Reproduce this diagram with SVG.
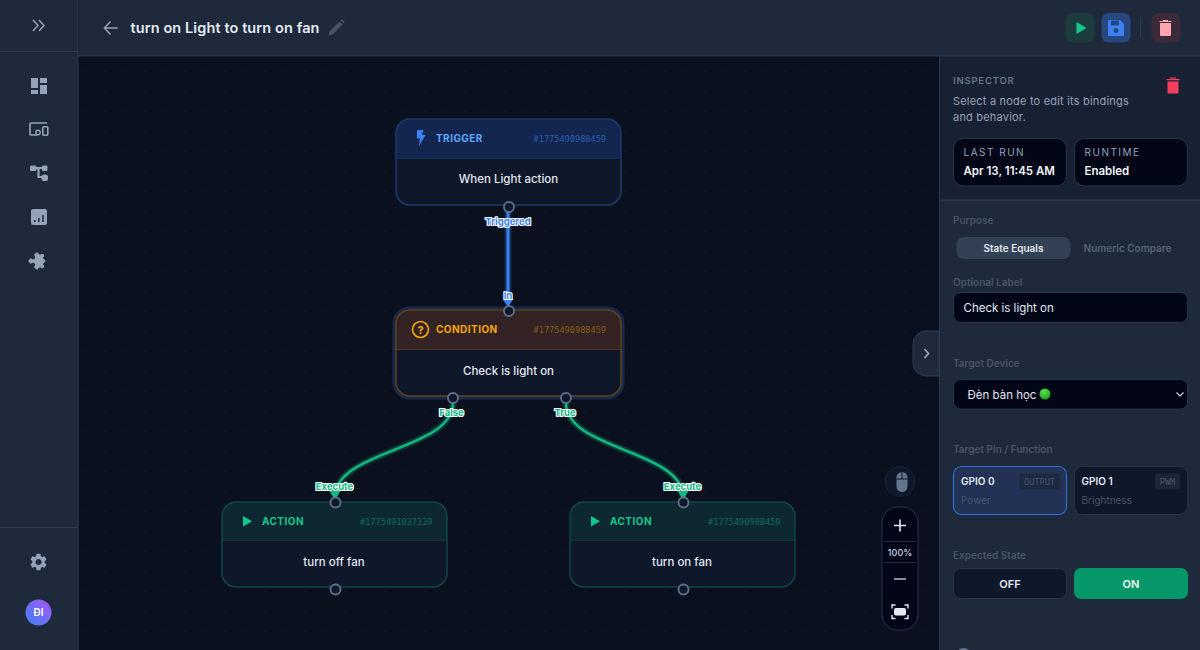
<svg xmlns="http://www.w3.org/2000/svg" width="1200" height="650" viewBox="0 0 1200 650">
<style>
text{font-family:Inter,"Noto Sans","Liberation Sans",sans-serif}
.kind{font-size:10px;font-weight:700;letter-spacing:.45px}
.nid{font-size:8.6px;font-family:"DejaVu Sans Mono",monospace}
.body{font-size:11.5px;font-weight:500;fill:#e2e8f0;text-anchor:middle}
.h{fill:#0f172a;stroke:#5f6f89;stroke-width:1.9}
.el{font-size:9.5px;font-weight:700;text-anchor:middle;paint-order:stroke;stroke:#fff;stroke-width:2.2px;stroke-linejoin:round}
.ic{fill:#94a3b8}
.lab{font-size:10px;font-weight:600;fill:#475569}
.card{fill:#020617;stroke:#273449}
.small{font-size:10px;letter-spacing:1.5px;fill:#94a3b8}
.val{font-size:11.5px;font-weight:600;fill:#f1f5f9}
.pin{font-size:8.6px;font-family:"DejaVu Sans Mono",monospace;fill:#475569;text-anchor:middle}
</style>
<defs>
<pattern id="dots" width="20" height="20" patternUnits="userSpaceOnUse" x="4" y="10"><circle cx="1" cy="1" r=".6" fill="#172033"/></pattern>
<linearGradient id="av" x1="1" y1="0" x2="0" y2="1"><stop offset="0" stop-color="#a855f7"/><stop offset="1" stop-color="#3b82f6"/></linearGradient>
<radialGradient id="dot" cx=".4" cy=".3" r=".8"><stop offset="0" stop-color="#5fe04a"/><stop offset="1" stop-color="#0f9d1c"/></radialGradient>
</defs>
<g id="canvas"><rect x="78" y="56" width="861" height="594" fill="#0a101e"/><rect x="78" y="56" width="861" height="594" fill="url(#dots)"/></g>
<g id="sidebar">
<rect width="78" height="650" fill="#1e293b"/><rect x="77.500" width="1" height="650" fill="#2c3a4f"/>
<rect y="51" width="78" height="1" fill="#2c3a4f"/><rect y="527" width="78" height="1" fill="#2c3a4f"/>
<path d="M33 20l5 5.500-5 5.500M39 20l5 5.500-5 5.500" fill="none" stroke="#94a3b8" stroke-width="1.500"/>
<path class="ic" d="M31 78h7v10h-7zM40 78h7v5h-7zM40 85h7v9h-7zM31 90h7v4h-7z"/>
<path d="M37 135h-6a1 1 0 0 1-1-1v-10a1 1 0 0 1 1-1h16" fill="none" stroke="#94a3b8" stroke-width="1.700"/><circle cx="38" cy="132.500" r="2.200" fill="none" stroke="#94a3b8" stroke-width="1.400"/><rect x="42.800" y="126.800" width="5" height="8.500" rx="1" fill="none" stroke="#94a3b8" stroke-width="1.600"/>
<path d="M33 168h12M38.500 168v9h5" fill="none" stroke="#94a3b8" stroke-width="2.200"/><rect x="30" y="165.500" width="6.500" height="5.500" rx="1.500" class="ic"/><rect x="42" y="165.500" width="5.500" height="5.500" rx="1" class="ic"/><rect x="41.500" y="174.500" width="6.500" height="6.500" rx="2.500" class="ic"/>
<rect x="31" y="209" width="16" height="16" rx="2" class="ic"/><path d="M34.800 222v-2M38.800 222v-4M43 222v-7" stroke="#1e293b" stroke-width="1.500"/>
<path class="ic" transform="translate(39 261) rotate(45) scale(.76) translate(-12.500 -11.500)" d="M20.500 11H19V7c0-1.100-.900-2-2-2h-4V3.500C13 2.120 11.880 1 10.500 1S8 2.120 8 3.500V5H4c-1.100 0-1.990.900-1.990 2v3.800H3.500c1.490 0 2.700 1.210 2.700 2.700s-1.210 2.700-2.700 2.700H2V20c0 1.100.900 2 2 2h3.800v-1.500c0-1.490 1.210-2.700 2.700-2.700 1.490 0 2.700 1.210 2.700 2.700V22H17c1.100 0 2-.900 2-2v-4h1.500c1.380 0 2.500-1.120 2.500-2.500S21.880 11 20.500 11z"/>
<path class="ic" fill-rule="evenodd" transform="translate(38.500 562) scale(.85) translate(-12 -12)" d="M19.140 12.940c.04-.3.06-.61.06-.94 0-.32-.02-.64-.07-.94l2.030-1.580c.18-.14.23-.41.12-.61l-1.920-3.320c-.12-.22-.37-.29-.59-.22l-2.390.96c-.5-.38-1.030-.7-1.620-.94l-.36-2.540c-.04-.24-.24-.41-.48-.41h-3.840c-.24 0-.43.17-.47.41l-.36 2.540c-.59.24-1.130.57-1.620.94l-2.390-.96c-.22-.08-.47 0-.59.22L2.740 8.870c-.12.21-.08.47.12.61l2.030 1.580c-.05.3-.09.63-.09.94s.02.64.07.94l-2.030 1.580c-.18.14-.23.41-.12.61l1.920 3.320c.12.22.37.29.59.22l2.390-.96c.5.38 1.030.7 1.620.94l.36 2.540c.05.24.24.41.48.41h3.840c.24 0 .44-.17.47-.41l.36-2.540c.59-.24 1.130-.56 1.620-.94l2.390.96c.22.08.47 0 .59-.22l1.920-3.320c.12-.22.07-.47-.12-.61l-2.010-1.580zM12 15.600c-1.980 0-3.600-1.620-3.600-3.600s1.620-3.600 3.600-3.600 3.600 1.620 3.600 3.600-1.620 3.600-3.600 3.600z"/>
<circle cx="38.500" cy="612.500" r="13" fill="url(#av)"/><text x="38.500" y="616" font-size="10" font-weight="600" fill="#fff" text-anchor="middle">ĐI</text>
</g>
<g id="header">
<rect x="78" width="1122" height="56" fill="#1e293b"/><rect x="78" y="55.500" width="1122" height="1" fill="#2a384c"/>
<path d="M117.500 28h-12.500M110.500 21.500l-6 6.500 6 6.500" fill="none" stroke="#94a3b8" stroke-width="1.500"/>
<text x="130.500" y="33" font-size="14.500" font-weight="600" letter-spacing=".1" fill="#e2e8f0">turn on Light to turn on fan</text>
<path d="M328.500 35.500l1-4 10-10 3 3-10 10zM340.500 20.500l1.300-1.300 2.800 2.800-1.300 1.500z" fill="#475569"/>
<rect x="1065.500" y="13" width="29" height="29.500" rx="7" fill="#1c3b3f"/><path d="M1076.500 22v12l10-6z" fill="#10c98f"/>
<rect x="1101.500" y="13" width="29" height="29.500" rx="7" fill="#27477f"/><path d="M1108 21a1 1 0 0 1 1-1h11l4 4v11a1 1 0 0 1-1 1h-14a1 1 0 0 1-1-1zM1111 20.500v5h8v-5zM1116 28a2.500 2.500 0 1 0 .01 0z" fill="#3b82f6" fill-rule="evenodd"/>
<rect x="1140" y="17" width="1" height="20" fill="#2c3a4f"/>
<rect x="1151.500" y="13" width="29" height="29.500" rx="7" fill="#3b2a3a"/><path d="M1160 23h11v12a1 1 0 0 1-1 1h-9a1 1 0 0 1-1-1zM1159.500 21h12v1h-12zM1163 20h5v1h-5z" fill="#fda4af"/>
</g>
<g id="connectors" fill="none">
<path d="M508 210V300" stroke="#3b82f6" stroke-opacity=".25" stroke-width="7"/>
<path d="M508 210V300" stroke="#3b82f6" stroke-width="3"/>
<path d="M502.500 299h11l-5.500 8z" fill="#3b82f6"/>
<path d="M453 403C453 450 335 450 335 497" stroke="#10b981" stroke-opacity=".22" stroke-width="7"/>
<path d="M453 403C453 450 335 450 335 497" stroke="#10b981" stroke-width="2.500"/>
<path d="M566 403C566 450 683 450 683 497" stroke="#10b981" stroke-opacity=".22" stroke-width="7"/>
<path d="M566 403C566 450 683 450 683 497" stroke="#10b981" stroke-width="2.500"/>
<path d="M329.500 491h11l-5.500 9z" fill="#10b981"/><path d="M677.500 491h11l-5.500 9z" fill="#10b981"/>
</g>
<g id="node-trigger">
<rect x="396" y="119" width="225" height="86" rx="14" fill="#0f172a"/>
<path d="M396 158v-25a14 14 0 0 1 14-14h197a14 14 0 0 1 14 14v25z" fill="#12264f"/>
<rect x="396" y="158" width="225" height="1" fill="#172a52"/>
<rect x="396" y="119" width="225" height="86" rx="14" fill="none" stroke="#1c3a70" stroke-width="1.500"/>
<path d="M417 130h6.500l-1.500 5h3.500l-6.500 11 1-7.500h-3z" fill="#3b82f6"/>
<text x="436" y="142" class="kind" fill="#60a5fa">TRIGGER</text>
<text x="606" y="141.500" class="nid" fill="#2c5cab" text-anchor="end">#1775490988459</text>
<text x="508.500" y="183" class="body">When Light action</text>
<circle cx="509" cy="207" r="5" class="h"/>
<text x="508" y="224.500" class="el" fill="#3b82f6">Triggered</text>
</g>
<g id="node-condition">
<rect x="392.500" y="306.500" width="232" height="93" rx="17" fill="#18294c"/>
<rect x="396" y="310" width="225" height="86" rx="14" fill="#0f172a"/>
<path d="M396 349v-25a14 14 0 0 1 14-14h197a14 14 0 0 1 14 14v25z" fill="#332324"/>
<rect x="396" y="349" width="225" height="1" fill="#4e3518"/>
<rect x="396" y="310" width="225" height="86" rx="14" fill="none" stroke="#5e4118" stroke-width="1.500"/>
<circle cx="420.500" cy="329.500" r="8" fill="none" stroke="#f5a80b" stroke-width="1.600"/>
<text x="420.500" y="333.500" font-size="11" font-weight="700" fill="#f5a80b" text-anchor="middle">?</text>
<text x="436" y="333" class="kind" fill="#f5a80b">CONDITION</text>
<text x="606" y="332.500" class="nid" fill="#8a5c12" text-anchor="end">#1775490988459</text>
<text x="508.500" y="374.500" class="body">Check is light on</text>
<circle cx="509" cy="311" r="5" class="h"/><circle cx="453" cy="398" r="5" class="h"/><circle cx="566" cy="398" r="5" class="h"/>
<text x="508" y="299" class="el" fill="#3b82f6">In</text>
<text x="451.500" y="416" class="el" fill="#10b981">False</text>
<text x="565" y="416" class="el" fill="#10b981">True</text>
</g>
<g id="node-action-off">
<rect x="222" y="502" width="225" height="85" rx="14" fill="#0f172a"/>
<path d="M222 540v-24a14 14 0 0 1 14-14h197a14 14 0 0 1 14 14v24z" fill="#0e2831"/>
<rect x="222" y="540" width="225" height="1" fill="#0e3238"/>
<rect x="222" y="502" width="225" height="85" rx="14" fill="none" stroke="#0f4643" stroke-width="1.500"/>
<path d="M243 516v10.500l9-5.250z" fill="#10c98f"/>
<text x="262" y="525" class="kind" fill="#10c98f">ACTION</text>
<text x="432.500" y="524.500" class="nid" fill="#0c6b5c" text-anchor="end">#1775491037339</text>
<text x="334" y="566" class="body">turn off fan</text>
<circle cx="335.500" cy="502.500" r="5" class="h"/><circle cx="335.500" cy="589.500" r="5" class="h"/>
<text x="334.500" y="489.500" class="el" fill="#10b981">Execute</text>
</g>
<g id="node-action-on">
<rect x="570" y="502" width="225" height="85" rx="14" fill="#0f172a"/>
<path d="M570 540v-24a14 14 0 0 1 14-14h197a14 14 0 0 1 14 14v24z" fill="#0e2831"/>
<rect x="570" y="540" width="225" height="1" fill="#0e3238"/>
<rect x="570" y="502" width="225" height="85" rx="14" fill="none" stroke="#0f4643" stroke-width="1.500"/>
<path d="M591 516v10.500l9-5.250z" fill="#10c98f"/>
<text x="610" y="525" class="kind" fill="#10c98f">ACTION</text>
<text x="780.500" y="524.500" class="nid" fill="#0c6b5c" text-anchor="end">#1775490988459</text>
<text x="682" y="566" class="body">turn on fan</text>
<circle cx="683.500" cy="502.500" r="5" class="h"/><circle cx="683.500" cy="589.500" r="5" class="h"/>
<text x="682.500" y="489.500" class="el" fill="#10b981">Execute</text>
</g>
<g id="canvas-controls">
<circle cx="900" cy="481.500" r="15" fill="#0f172a" stroke="#1a2436"/>
<rect x="896.500" y="472" width="11" height="20" rx="5.500" fill="#64748b"/><path d="M902 472v7M896.500 479h11" stroke="#0f172a" stroke-width="1"/>
<rect x="882" y="507" width="36" height="123" rx="15" fill="#020617" stroke="#273449"/>
<path d="M900 519.500v12M894 525.500h12" stroke="#e2e8f0" stroke-width="1.600"/>
<rect x="885" y="541" width="30" height="1" fill="#1e293b"/><rect x="885" y="562" width="30" height="1" fill="#1e293b"/>
<text x="900" y="555.500" font-size="9" font-weight="500" fill="#cbd5e1" text-anchor="middle">100%</text>
<path d="M894 579h12" stroke="#94a3b8" stroke-width="1.800"/>
<rect x="894" y="608" width="12" height="7.500" rx="2" fill="#e2e8f0"/>
<path d="M892 608.500v-3.500h3.500M904.500 605h3.500v3.500M908 615v3.500h-3.500M895.500 618.500H892V615" fill="none" stroke="#e2e8f0" stroke-width="1.400"/>
</g>
<g id="inspector">
<path d="M926 331h13v45h-13a13 13 0 0 1-13-13v-19a13 13 0 0 1 13-13z" fill="#1e293b" stroke="#2d3b50"/>
<path d="M924.500 349l4 4.500-4 4.500" fill="none" stroke="#94a3b8" stroke-width="1.800"/>
<rect x="939" y="56" width="261" height="594" fill="#1e293b"/>
<rect x="939" y="57" width="261" height="143" fill="#182034"/>
<rect x="939" y="56" width="1" height="594" fill="#2d3b50"/>
<rect x="940" y="199.500" width="260" height="1.500" fill="#273449"/>
<text x="953" y="84" font-size="9.500" font-weight="600" letter-spacing=".8" fill="#64748b">INSPECTOR</text>
<path d="M1167.500 81.500h11v11a1 1 0 0 1-1 1h-9a1 1 0 0 1-1-1zM1166.500 79h13v1.300h-13zM1170 77.500h6v1h-6z" fill="#f43f5e"/>
<text x="953" y="104.500" font-size="11" fill="#94a3b8" letter-spacing=".2">Select a node to edit its bindings</text>
<text x="953" y="121" font-size="11" fill="#94a3b8" letter-spacing=".2">and behavior.</text>
<rect x="953.500" y="138.500" width="113" height="47.500" rx="10" class="card"/>
<rect x="1074.500" y="138.500" width="113" height="47.500" rx="10" class="card"/>
<text x="963.500" y="156" class="small">LAST RUN</text><text x="1084.500" y="156" class="small">RUNTIME</text>
<text x="963.500" y="175" class="val">Apr 13, 11:45 AM</text><text x="1084.500" y="175" class="val">Enabled</text>
<text x="953" y="224" class="lab">Purpose</text>
<rect x="956.500" y="237" width="114" height="22" rx="7" fill="#334155"/>
<text x="1013.500" y="252" font-size="10" font-weight="600" fill="#e2e8f0" text-anchor="middle">State Equals</text>
<text x="1127.500" y="252" font-size="10" font-weight="600" fill="#55637a" text-anchor="middle">Numeric Compare</text>
<text x="953" y="286" class="lab">Optional Label</text>
<rect x="953.500" y="292.500" width="234" height="30" rx="7" class="card"/>
<text x="963.500" y="311.500" font-size="11.500" fill="#e2e8f0">Check is light on</text>
<text x="953" y="367" class="lab">Target Device</text>
<rect x="953.500" y="379.500" width="234" height="29.500" rx="7" class="card"/>
<text x="967.500" y="398.500" font-size="11.500" fill="#e2e8f0">Đèn bàn học</text>
<circle cx="1045" cy="394" r="5.500" fill="url(#dot)"/>
<path d="M1176.500 392.500l3.500 3.500 3.500-3.500" fill="none" stroke="#cbd5e1" stroke-width="1.200"/>
<text x="953" y="453" class="lab">Target Pin / Function</text>
<rect x="953.500" y="466.500" width="113" height="48" rx="8" fill="#223154" stroke="#2f6fd8" stroke-width="1.200"/>
<rect x="1019" y="473.500" width="41" height="16" rx="3" fill="#1c2941"/>
<text x="961" y="485" font-size="10" font-weight="600" fill="#e2e8f0">GPIO 0</text>
<text x="1039.500" y="484.500" class="pin">OUTPUT</text>
<text x="961" y="503.500" font-size="10" fill="#475569">Power</text>
<rect x="1074.500" y="466.500" width="113" height="48" rx="8" fill="#0f172a" stroke="#273449"/>
<rect x="1155" y="473.500" width="25" height="16" rx="3" fill="#1c2638"/>
<text x="1081.500" y="485" font-size="10" font-weight="600" fill="#e2e8f0">GPIO 1</text>
<text x="1167.500" y="484.500" class="pin">PWM</text>
<text x="1081.500" y="503.500" font-size="10" fill="#475569">Brightness</text>
<text x="953" y="558.500" class="lab">Expected State</text>
<rect x="953.500" y="568.500" width="113" height="30" rx="7" fill="#0f172a" stroke="#273449"/>
<text x="1010" y="587.500" font-size="11" font-weight="600" fill="#e2e8f0" text-anchor="middle">OFF</text>
<rect x="1074" y="568" width="114" height="31" rx="7" fill="#059669"/>
<text x="1131" y="587.500" font-size="11" font-weight="600" fill="#f0fdf4" text-anchor="middle">ON</text>
<circle cx="963.500" cy="656" r="8" fill="#64748b"/>
</g>
</svg>
